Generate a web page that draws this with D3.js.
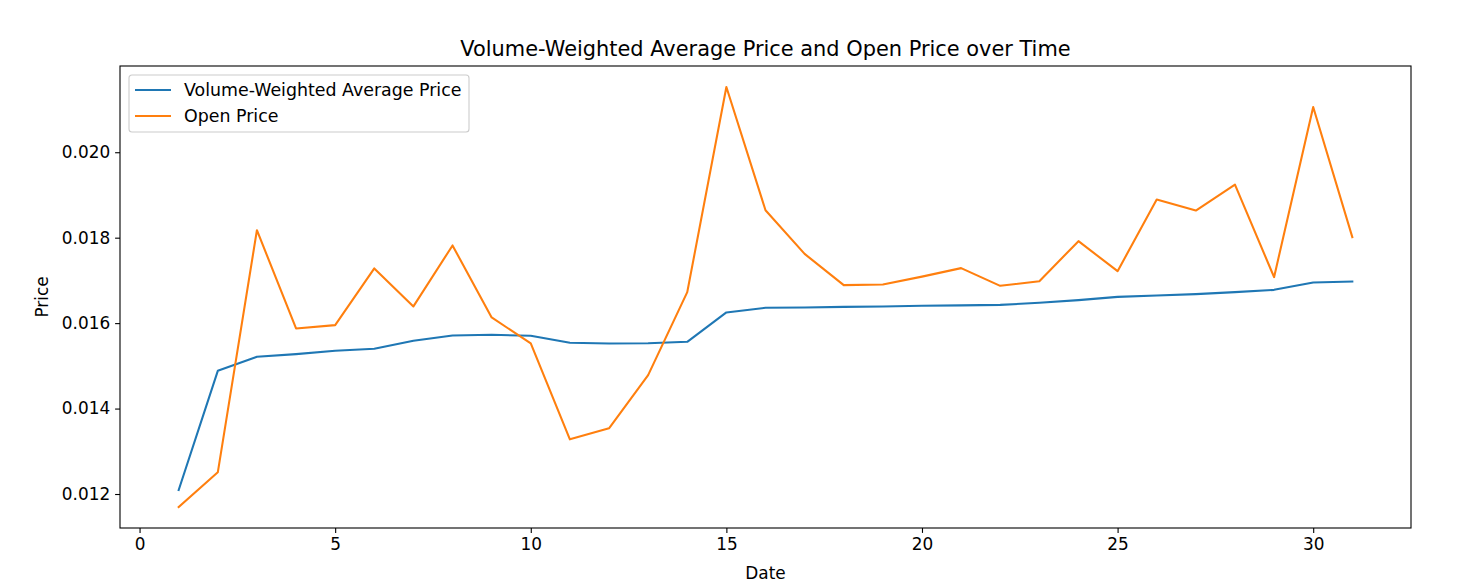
<!DOCTYPE html>
<html>
  <head>
    <meta charset="utf-8">
    <title>VWAP and Open Price</title>
    <style media="screen">
    body{margin: 0; background: #fff}
    svg text{font-family: "DejaVu Sans", sans-serif; fill: #000}
    </style>
  </head>
  <body>
    <script src="https://cdn.jsdelivr.net/npm/d3@7"></script>
    <script type="text/javascript">
      var w = 1462, h = 583;
      var margin = {top: 66, right: 51, bottom: 55, left: 120};

      // data
      var days = d3.range(1, 32);
      var vwap = [0.012094, 0.014884, 0.015212, 0.015275, 0.015352, 0.015399, 0.015586, 0.015712,
        0.015726, 0.015705, 0.015539, 0.015525, 0.015530, 0.015563, 0.016250, 0.016358,
        0.016365, 0.016381, 0.016391, 0.016405, 0.016416, 0.016428, 0.016475, 0.016538,
        0.016615, 0.016648, 0.016678, 0.016725, 0.016779, 0.016952, 0.016975];
      var openPrice = [0.011696, 0.012508, 0.018175, 0.015876, 0.015953, 0.017280, 0.016391, 0.017818,
        0.016133, 0.015525, 0.013279, 0.013537, 0.014784, 0.016725, 0.021527, 0.018643,
        0.017621, 0.016889, 0.016905, 0.017088, 0.017287, 0.016873, 0.016982, 0.017918,
        0.017216, 0.018894, 0.018636, 0.019244, 0.017076, 0.021060, 0.018012];
      var xTicks = [0, 5, 10, 15, 20, 25, 30];
      var yTicks = [0.012, 0.014, 0.016, 0.018, 0.020];
      var seriesNames = ["Volume-Weighted Average Price", "Open Price"];
      var colors = ["#1f77b4", "#ff7f0e"];

      var series = [vwap, openPrice];

      var iw = w - margin.left - margin.right, ih = h - margin.top - margin.bottom;

      var svg = d3.select('body').append('svg')
        .attr('width', w)
        .attr('height', h)

      var g = svg.append('g').attr('transform', 'translate(' + margin.left + ',' + margin.top + ')')

      // matplotlib style 5% padding
      var xr = d3.extent(days), xp = (xr[1] - xr[0]) * 0.05;
      var yr = d3.extent(vwap.concat(openPrice)), yp = (yr[1] - yr[0]) * 0.05;

      var x = d3.scaleLinear().domain([xr[0] - xp, xr[1] + xp]).range([0, iw]);
      var y = d3.scaleLinear().domain([yr[0] - yp, yr[1] + yp]).range([ih, 0]);

      var line = d3.line()
        .x(function(d, i){ return x(days[i]) })
        .y(function(d){ return y(d) })

      series.forEach(function(s, k){
        g.append('path')
          .datum(s)
          .attr('d', line)
          .attr('fill', 'none')
          .attr('stroke', colors[k])
          .attr('stroke-width', 2.08)
          .attr('stroke-linejoin', 'round')
          .attr('stroke-linecap', 'square')
      })

      var xAxis = g.append('g')
        .attr('transform', 'translate(0,' + ih + ')')
        .call(d3.axisBottom(x).tickValues(xTicks).tickSize(4.9).tickPadding(4.9).tickFormat(d3.format('d')))
      var yAxis = g.append('g')
        .call(d3.axisLeft(y).tickValues(yTicks).tickSize(4.9).tickPadding(4.9).tickFormat(d3.format('.3f')))

      ;[xAxis, yAxis].forEach(function(a){
        a.select('.domain').remove()
        a.selectAll('.tick line').attr('stroke', '#000').attr('stroke-width', 1.1)
        a.selectAll('.tick text').style('font-size', '16.9px').attr('font-family', null)
      })

      g.append('rect')
        .attr('width', iw).attr('height', ih)
        .attr('fill', 'none').attr('stroke', '#000').attr('stroke-width', 1.1)

      svg.append('text')
        .attr('x', margin.left + iw / 2).attr('y', 56)
        .attr('text-anchor', 'middle')
        .style('font-size', '20.9px')
        .text('Volume-Weighted Average Price and Open Price over Time')

      svg.append('text')
        .attr('x', margin.left + iw / 2).attr('y', 579)
        .attr('text-anchor', 'middle')
        .style('font-size', '16.9px')
        .text('Date')

      svg.append('text')
        .attr('transform', 'translate(48,' + (margin.top + ih / 2) + ') rotate(-90)')
        .attr('text-anchor', 'middle')
        .style('font-size', '16.9px')
        .text('Price')

      // legend
      var legend = g.append('g').attr('transform', 'translate(9,9)')
      legend.append('rect')
        .attr('width', 340).attr('height', 57)
        .attr('rx', 3)
        .attr('fill', '#fff').attr('fill-opacity', 0.8)
        .attr('stroke', '#ccc').attr('stroke-width', 1.1)

      seriesNames.forEach(function(name, k){
        var ly = 15 + k * 26;
        legend.append('line')
          .attr('x1', 6).attr('x2', 42).attr('y1', ly).attr('y2', ly)
          .attr('stroke', colors[k]).attr('stroke-width', 2.08)
        legend.append('text')
          .attr('x', 55).attr('y', ly + 6)
          .style('font-size', '17.4px')
          .text(name)
      })
    </script>
  </body>
</html>
